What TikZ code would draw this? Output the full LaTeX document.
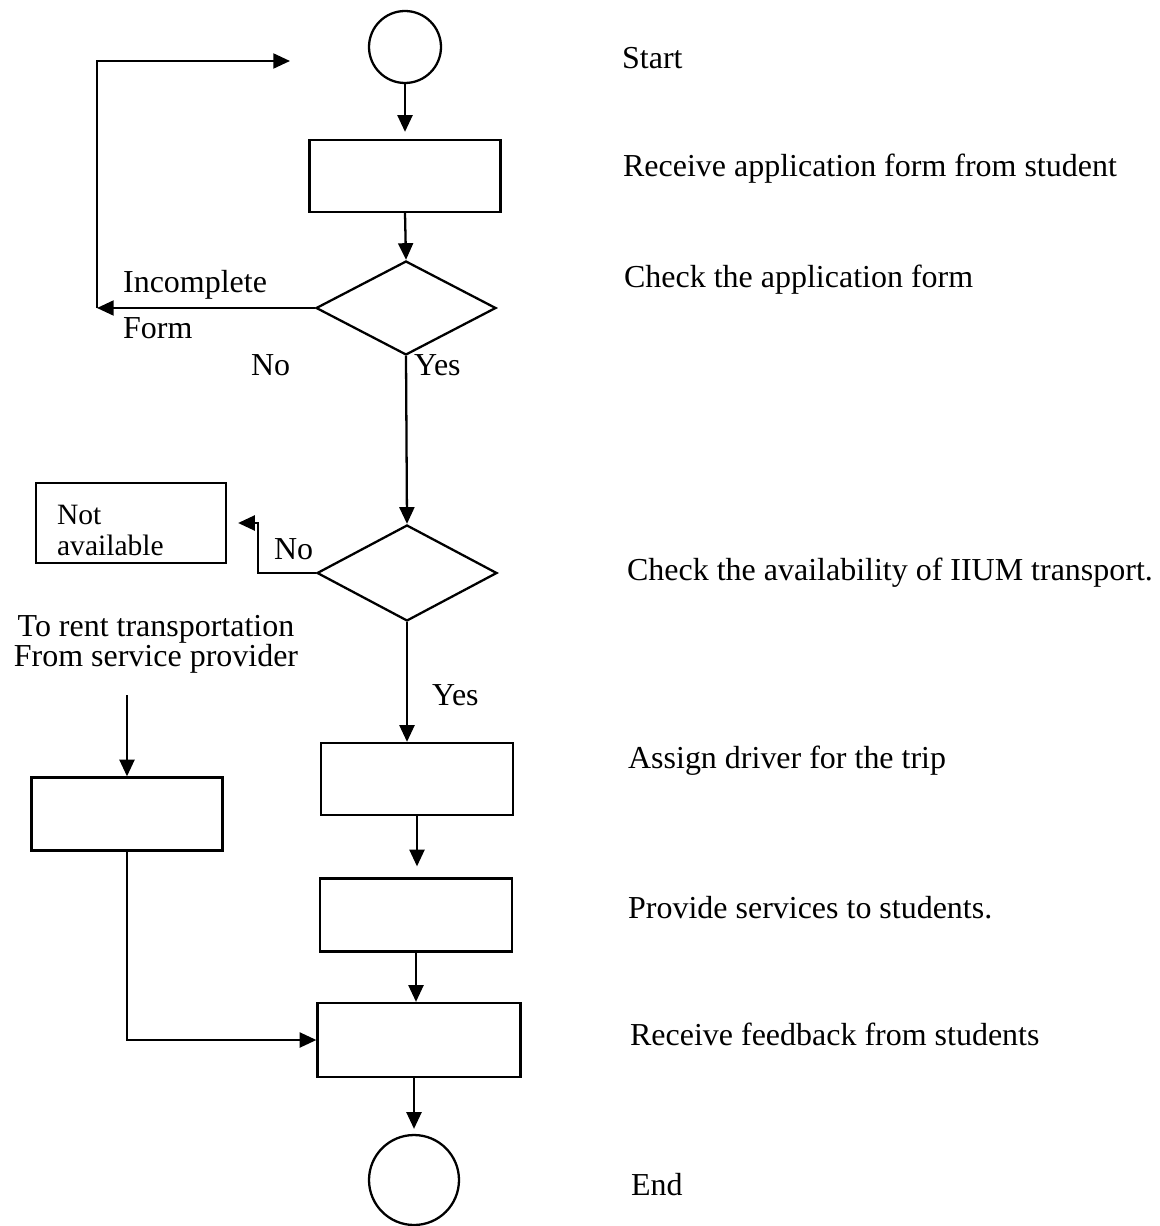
\documentclass[tikz,border=0pt]{standalone}
\usepackage{fontspec}
\setmainfont{Liberation Serif}
\usetikzlibrary{shapes.geometric,arrows.meta}

\begin{document}
\begin{tikzpicture}[x=0.02cm, y=-0.02cm, line width=1.3pt,
    font=\fontsize{18.2}{20}\selectfont,
    box/.style={draw, minimum width=3.82cm, minimum height=1.44cm, inner sep=0},
    decision/.style={draw, diamond, minimum width=3.6cm, minimum height=1.9cm, inner sep=0},
    terminal/.style={draw, circle, inner sep=0},
    txt/.style={inner sep=0, anchor=base west},
    arr/.style={-{Triangle[length=9.5pt, width=8.5pt]}}]
\useasboundingbox (0,0) rectangle (1159,1226);

% Main flow
\node[terminal, minimum size=1.44cm] (start) at (405,47) {};
\node[box] (recv) at (405,176) {};
\node[decision, minimum height=1.88cm] (chk) at (406,308) {};
\node[decision, minimum height=1.92cm] (avail) at (407,573) {};
\node[box, minimum width=3.84cm] (assign) at (417,779) {};
\node[box, minimum width=3.84cm, minimum height=1.46cm] (provide) at (416,915) {};
\node[box, minimum width=4.06cm, minimum height=1.48cm] (feedback) at (419,1040) {};
\node[terminal, minimum size=1.8cm] (stop) at (414,1180) {};

% Side boxes
\node[box, minimum width=3.8cm, minimum height=1.6cm] (notav) at (131,523) {};
\node[inner sep=0, anchor=north west, align=left, font=\fontsize{16.8}{17.6}\selectfont] (notavtxt) at (56,504) {Not\\available};
\node[box, minimum height=1.46cm] (rent) at (127,814) {};
\node[inner sep=0, anchor=north, align=center, font=\fontsize{18.2}{17}\selectfont] (renttxt) at (156,614) {To rent transportation\\From service provider};

% Branch labels
\node[txt] (incomplete) at (122,293) {Incomplete};
\node[txt] (form) at (122,338) {Form};
\node[txt] (no1) at (250,375) {No};
\node[txt] (yes1) at (413,375) {Yes};
\node[txt] (no2) at (273,559) {No};
\node[txt] (yes2) at (431,705) {Yes};

% Step descriptions
\node[txt] (dstart) at (621,69) {Start};
\node[txt] (drecv) at (622,177) {Receive application form from student};
\node[txt] (dchk) at (623,288) {Check the application form};
\node[txt] (davail) at (626,580) {Check the availability of IIUM transport.};
\node[txt] (dassign) at (627,768) {Assign driver for the trip};
\node[txt] (dprovide) at (627,918) {Provide services to students.};
\node[txt] (dfeedback) at (629,1045) {Receive feedback from students};
\node[txt] (dend) at (630,1195) {End};

% Arrows
\draw[arr, shorten >=0.14cm] (start.south) -- (recv.north);
\draw[arr] (recv.south) -- (chk.north);
\draw[arr] (chk.south) -- (avail.north);
\draw[arr] (avail.south) -- (avail.south |- assign.north);
\draw[arr, shorten >=0.22cm] (assign.south) -- (assign.south |- provide.north);
\draw[arr] (provide.south) -- (provide.south |- feedback.north);
\draw[arr, shorten >=0.1cm] (stop.north |- feedback.south) -- (stop.north);

% Incomplete form goes back
\coordinate (loopc) at (97,308);
\coordinate (loopend) at (290,61);
\draw[arr] (chk.west) -- (loopc);
\draw[arr] (loopc) |- (loopend);

% Not available
\coordinate (nocorner) at (258,523);
\draw[arr, shorten >=0.22cm] (avail.west) -| (nocorner) -- (notav.east);

% Rented transport
\coordinate (rentstart) at (127,695);
\draw[arr] (rentstart) -- (rent.north);
\draw[arr] (rent.south) |- (feedback.west);
\end{tikzpicture}
\end{document}
